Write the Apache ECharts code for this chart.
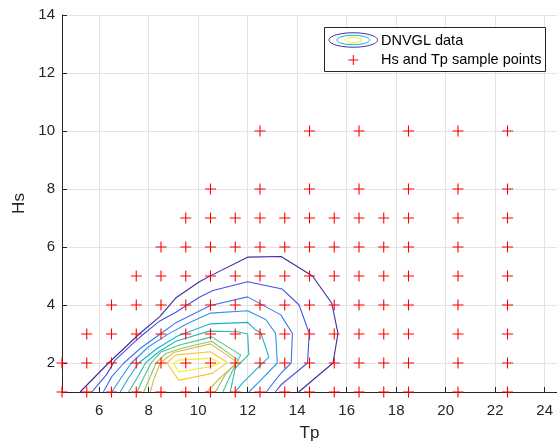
<!DOCTYPE html>
<html>
<head>
<meta charset="utf-8">
<script src="https://cdn.jsdelivr.net/npm/echarts@6/dist/echarts.min.js"></script>
<style>
  html, body { margin: 0; padding: 0; background: #fff; }
  #chart { width: 557px; height: 442px; }
</style>
</head>
<body>
<div id="chart"></div>
<script>

// sample points (Tp values for each Hs row)
var tpHs1 = [4.5, 5.5, 6.5, 7.5, 8.5, 9.5, 10.5, 11.5, 12.5, 13.5, 14.5, 15.5, 16.5, 17.5, 18.5, 20.5, 22.5];
var tpHs2 = [4.5, 5.5, 6.5, 7.5, 8.5, 9.5, 10.5, 11.5, 12.5, 13.5, 14.5, 15.5, 16.5, 17.5, 18.5, 20.5, 22.5];
var tpHs3 = [5.5, 6.5, 7.5, 8.5, 9.5, 10.5, 11.5, 12.5, 13.5, 14.5, 15.5, 16.5, 17.5, 18.5, 20.5, 22.5];
var tpHs4 = [6.5, 7.5, 8.5, 9.5, 10.5, 11.5, 12.5, 13.5, 14.5, 15.5, 16.5, 17.5, 18.5, 20.5, 22.5];
var tpHs5 = [7.5, 8.5, 9.5, 10.5, 11.5, 12.5, 13.5, 14.5, 15.5, 16.5, 17.5, 18.5, 20.5, 22.5];
var tpHs6 = [8.5, 9.5, 10.5, 11.5, 12.5, 13.5, 14.5, 15.5, 16.5, 17.5, 18.5, 20.5, 22.5];
var tpHs7 = [9.5, 10.5, 11.5, 12.5, 13.5, 14.5, 15.5, 16.5, 17.5, 18.5, 20.5, 22.5];
var tpHs8 = [10.5, 12.5, 14.5, 16.5, 18.5, 20.5, 22.5];
var tpHs10 = [12.5, 14.5, 16.5, 18.5, 20.5, 22.5];

var sampleRows = [
    [1, tpHs1], [2, tpHs2], [3, tpHs3], [4, tpHs4], [5, tpHs5],
    [6, tpHs6], [7, tpHs7], [8, tpHs8], [10, tpHs10]
];

// DNVGL contour lines, [Tp, Hs], outermost first
var contour1 = [[5.23, 1], [6.38, 2], [7.62, 3], [8.45, 3.6], [9.12, 4.26], [10.05, 4.8], [10.55, 5.03], [12, 5.65], [13.35, 5.67], [14.62, 5.0], [15.4, 4.06], [15.65, 3.02], [15.45, 2], [14.06, 1]];
var contour2 = [[5.7, 1], [6.3, 1.6], [6.65, 2.1], [7.4, 2.7], [7.8, 3.0], [8.4, 3.42], [9.1, 3.75], [10.05, 4.27], [10.6, 4.5], [12, 4.8], [13.4, 4.55], [14.08, 4.0], [14.49, 3.02], [14.42, 2.0], [13.34, 1.24], [13.12, 1]];
var contour3 = [[6.17, 1], [6.51, 1.53], [7.0, 2.0], [7.66, 2.5], [8.47, 3.0], [9.12, 3.4], [10.5, 3.98], [12, 4.28], [13.34, 3.66], [13.81, 3.02], [13.76, 2.0], [13.34, 1.64], [12.75, 1]];
var contour4 = [[6.51, 1], [6.9, 1.5], [7.3, 2], [8.0, 2.56], [8.74, 2.97], [9.55, 3.35], [10.5, 3.72], [12, 3.8], [12.73, 3.5], [13.13, 3.02], [13.2, 2.0], [12.6, 1.47], [12.05, 1]];
var contour5 = [[6.85, 1], [7.2, 1.5], [7.6, 2], [8.34, 2.5], [9.15, 2.92], [10.5, 3.35], [12, 3.4], [12.32, 3.14], [12.53, 3.05], [12.86, 2.2], [12.55, 1.95], [11.78, 1.3], [11.5, 1]];
var contour6 = [[7.19, 1], [7.55, 1.5], [7.87, 2], [8.4, 2.38], [9.1, 2.75], [10.45, 3.1], [11.6, 3.08], [12, 3.0], [12.05, 2.3], [11.5, 1.82], [11.3, 1]];
var contour7 = [[7.53, 1], [7.8, 1.5], [8.1, 2], [8.5, 2.38], [9.25, 2.62], [10.55, 2.9], [11.72, 2.28], [11.4, 1.75], [11.0, 1]];
var contour8 = [[7.8, 1], [8.05, 1.5], [8.3, 2], [8.7, 2.33], [9.3, 2.5], [10.55, 2.75], [11.62, 2.1], [11.1, 1.6], [10.7, 1]];
var contour9 = [[8.07, 1], [8.2, 1.41], [8.47, 2.0], [9.01, 2.36], [10.5, 2.66], [11.6, 2.02], [10.9, 1.5], [10.35, 1]];
var contour10 = [[8.74, 2.0], [9.1, 2.28], [10.5, 2.39], [11.18, 2.02], [10.6, 1.65], [9.22, 1.4], [8.74, 2.0]];
var contour11 = [[9.01, 1.99], [9.21, 2.1], [10.5, 2.16], [10.9, 2.01], [10.5, 1.87], [9.21, 1.7], [9.01, 1.99]];

var contours = [contour1, contour2, contour3, contour4, contour5, contour6, contour7, contour8, contour9, contour10, contour11];
var contourColors = ['#3e2a9e', '#4650e2', '#3c74f0', '#2b95e8', '#17afd8', '#25bcb4', '#4cc392', '#92c36a', '#d9b845', '#f8c634', '#f2ee1e'];

var xTicks = { min: 4.5, max: 24.5 };
var yTicks = { min: 1, max: 14 };

var fontFamily = "'Liberation Sans', Arial, Helvetica, sans-serif";

var myChart = echarts.init(document.getElementById('chart'));

var series = [];

for (var i = 0; i < contours.length; i++) {
    series.push({
        name: 'DNVGL data',
        type: 'line',
        data: contours[i],
        showSymbol: false,
        symbol: 'none',
        smooth: false,
        clip: true,
        lineStyle: { color: contourColors[i], width: 1.1 },
        z: 2
    });
}

var samples = [];
for (var r = 0; r < sampleRows.length; r++) {
    for (var k = 0; k < sampleRows[r][1].length; k++) {
        samples.push([sampleRows[r][1][k], sampleRows[r][0]]);
    }
}

series.push({
    name: 'Hs and Tp sample points',
    type: 'scatter',
    data: samples,
    symbol: 'path://M4.5,0H5.5V10H4.5Z M0,4.5H10V5.5H0Z',
    symbolSize: 11,
    clip: false,
    itemStyle: { color: '#ff0000', opacity: 1 },
    z: 5
});

// legend box drawn by hand (contour icon has several colours)
var legendZ = 100;

var option = {
    animation: false,
    backgroundColor: '#ffffff',
    textStyle: { fontFamily: fontFamily },
    grid: { left: 62, right: 0, top: 15, bottom: 50, containLabel: false, outerBoundsMode: 'none' },
    xAxis: {
        type: 'value',
        min: xTicks.min,
        max: xTicks.max,
        splitNumber: 10,
        name: 'Tp',
        nameLocation: 'middle',
        nameGap: 32.5,
        nameTextStyle: { color: '#262626', fontSize: 17, fontFamily: fontFamily },
        axisLine: { show: true, onZero: false, lineStyle: { color: '#262626', width: 1 } },
        axisTick: { show: true, inside: true, length: 5, lineStyle: { color: '#262626' } },
        axisLabel: { color: '#262626', fontSize: 15, margin: 11, showMinLabel: false, showMaxLabel: false, fontFamily: fontFamily },
        splitLine: { show: true, lineStyle: { color: '#e3e3e3', width: 1 } }
    },
    yAxis: {
        type: 'value',
        min: yTicks.min,
        max: yTicks.max,
        splitNumber: 6,
        name: 'Hs',
        nameLocation: 'middle',
        nameGap: 28,
        nameTextStyle: { color: '#262626', fontSize: 17, fontFamily: fontFamily },
        axisLine: { show: true, onZero: false, lineStyle: { color: '#262626', width: 1 } },
        axisTick: { show: true, inside: true, length: 5, lineStyle: { color: '#262626' } },
        axisLabel: { color: '#262626', fontSize: 15, margin: 7, showMinLabel: false, fontFamily: fontFamily },
        splitLine: { show: true, lineStyle: { color: '#e3e3e3', width: 1 } }
    },
    graphic: [
        { type: 'rect', z: legendZ, shape: { x: 324.5, y: 27.5, width: 221, height: 44 }, style: { fill: '#fff', stroke: '#262626', lineWidth: 1 } },
        { type: 'ellipse', z: legendZ + 1, shape: { cx: 353.3, cy: 40, rx: 24.3, ry: 7.2 }, style: { fill: 'none', stroke: '#3e2a9e', lineWidth: 1 } },
        { type: 'ellipse', z: legendZ + 1, shape: { cx: 353.3, cy: 40, rx: 16.3, ry: 4.7 }, style: { fill: 'none', stroke: '#17afd8', lineWidth: 1 } },
        { type: 'ellipse', z: legendZ + 1, shape: { cx: 353.3, cy: 40, rx: 8, ry: 2.7 }, style: { fill: 'none', stroke: '#f2ee1e', lineWidth: 1 } },
        { type: 'rect', z: legendZ + 1, shape: { x: 348.3, y: 59.5, width: 10, height: 1 }, style: { fill: '#ff0000' } },
        { type: 'rect', z: legendZ + 1, shape: { x: 352.8, y: 55, width: 1, height: 10 }, style: { fill: '#ff0000' } },
        { type: 'text', z: legendZ + 1, x: 381, y: 40.5, style: { text: 'DNVGL data', fill: '#000', font: '14.5px ' + fontFamily, verticalAlign: 'middle' } },
        { type: 'text', z: legendZ + 1, x: 381, y: 60, style: { text: 'Hs and Tp sample points', fill: '#000', font: '14.5px ' + fontFamily, verticalAlign: 'middle' } }
    ],
    series: series
};

myChart.setOption(option);

</script>
</body>
</html>
